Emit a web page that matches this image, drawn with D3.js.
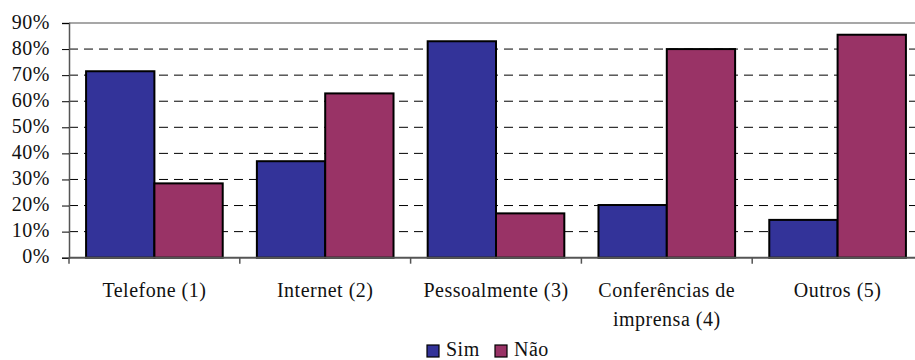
<!DOCTYPE html>
<html>
<head>
<meta charset="utf-8">
<script src="https://cdn.jsdelivr.net/npm/d3@7"></script>
<style>
  html, body { margin: 0; padding: 0; background: #fff; }
  svg { display: block; }
</style>
</head>
<body>
<svg id="chart" width="915" height="360"></svg>
<script>
// Canais de contacto: proporção de respostas Sim / Não
const categories = ["Telefone (1)", "Internet (2)", "Pessoalmente (3)", "Conferências de imprensa (4)", "Outros (5)"];
const seriesNames = ["Sim", "Não"];
const simValues = [0.715, 0.37, 0.83, 0.202, 0.145];
const naoValues = [0.285, 0.63, 0.17, 0.80, 0.855];
const yTicks = [0, 0.1, 0.2, 0.3, 0.4, 0.5, 0.6, 0.7, 0.8, 0.9];
const colors = { "Sim": "#333399", "Não": "#993366" };

const rows = categories.map((c, i) => ({ cat: c, Sim: simValues[i], "Não": naoValues[i] }));

const FONT = '"Liberation Serif"';
function styleText(sel) {
  return sel.style("font-family", FONT)
    .style("font-size", "20px")
    .style("letter-spacing", "0.5px")
    .style("fill", "#111");
}

const svg = d3.select("#chart");
const plotLeft = 69, plotRight = 923, plotTop = 23, plotBottom = 257.7;

const x0 = d3.scaleBand().domain(categories).range([plotLeft, plotRight]).padding(0);
const x1 = d3.scaleBand().domain(seriesNames).range([0, x0.bandwidth()])
  .paddingInner(0).paddingOuter(0.25);
const y = d3.scaleLinear().domain([0, 0.9]).range([plotBottom, plotTop]);

// dashed horizontal gridlines
svg.append("g")
  .selectAll("line")
  .data(yTicks.filter(t => t > 0 && t < 0.9))
  .join("line")
  .attr("x1", plotLeft).attr("x2", 915)
  .attr("y1", d => y(d)).attr("y2", d => y(d))
  .attr("stroke", "#000").attr("stroke-width", 1)
  .attr("stroke-dasharray", "9,6");

// top border of the plot area
svg.append("line")
  .attr("x1", plotLeft).attr("x2", 915)
  .attr("y1", y(0.9)).attr("y2", y(0.9))
  .attr("stroke", "#8a8a8a").attr("stroke-width", 1.5);

// bars
const groups = svg.append("g")
  .selectAll("g")
  .data(rows)
  .join("g")
  .attr("transform", d => `translate(${x0(d.cat)},0)`);

groups.selectAll("rect")
  .data(d => seriesNames.map(s => ({ s, v: d[s] })))
  .join("rect")
  .attr("x", d => x1(d.s))
  .attr("width", x1.bandwidth())
  .attr("y", d => y(d.v))
  .attr("height", d => y(0) - y(d.v))
  .attr("fill", d => colors[d.s])
  .attr("stroke", "#000")
  .attr("stroke-width", 2);

// y axis
const yAxis = d3.axisLeft(y).tickValues(yTicks).tickFormat(d3.format(".0%"))
  .tickSize(7).tickPadding(12);
const gy = svg.append("g").attr("transform", `translate(${plotLeft},0)`).call(yAxis);
gy.attr("font-family", FONT);
gy.select(".domain").attr("stroke", "#555").attr("stroke-width", 1.5);
gy.selectAll(".tick line").attr("stroke", "#000").attr("stroke-width", 1);
styleText(gy.selectAll(".tick text")).attr("dy", "0.25em");

// x axis line with category boundary ticks
svg.append("line")
  .attr("x1", plotLeft).attr("x2", 915)
  .attr("y1", y(0)).attr("y2", y(0))
  .attr("stroke", "#555").attr("stroke-width", 2);
svg.append("g")
  .selectAll("line")
  .data(categories.map(c => x0(c)))
  .join("line")
  .attr("x1", d => d).attr("x2", d => d)
  .attr("y1", y(0)).attr("y2", y(0) + 6)
  .attr("stroke", "#555").attr("stroke-width", 1.5);

// category labels, wrapped to the band width
const labels = styleText(svg.append("g")
  .selectAll("text")
  .data(categories)
  .join("text"))
  .attr("x", d => x0(d) + x0.bandwidth() / 2)
  .attr("y", 297)
  .attr("text-anchor", "middle");

labels.each(function(d) {
  const t = d3.select(this);
  const cx = x0(d) + x0.bandwidth() / 2;
  const words = d.split(" ");
  let line = [];
  let tspan = t.append("tspan").attr("x", cx).attr("dy", 0);
  words.forEach(w => {
    line.push(w);
    tspan.text(line.join(" "));
    if (tspan.node().getComputedTextLength() > x0.bandwidth() - 8 && line.length > 1) {
      line.pop();
      tspan.text(line.join(" "));
      line = [w];
      tspan = t.append("tspan").attr("x", cx).attr("dy", 29).text(w);
    }
  });
});

// legend
const legend = svg.append("g").attr("transform", "translate(427,345)");
const items = [{ s: "Sim", x: 0 }, { s: "Não", x: 68 }];
const li = legend.selectAll("g").data(items).join("g")
  .attr("transform", d => `translate(${d.x},0)`);
li.append("rect")
  .attr("width", 12).attr("height", 12)
  .attr("fill", d => colors[d.s])
  .attr("stroke", "#000").attr("stroke-width", 1.2);
styleText(li.append("text"))
  .attr("x", 19).attr("y", 11)
  .text(d => d.s);
</script>
</body>
</html>
